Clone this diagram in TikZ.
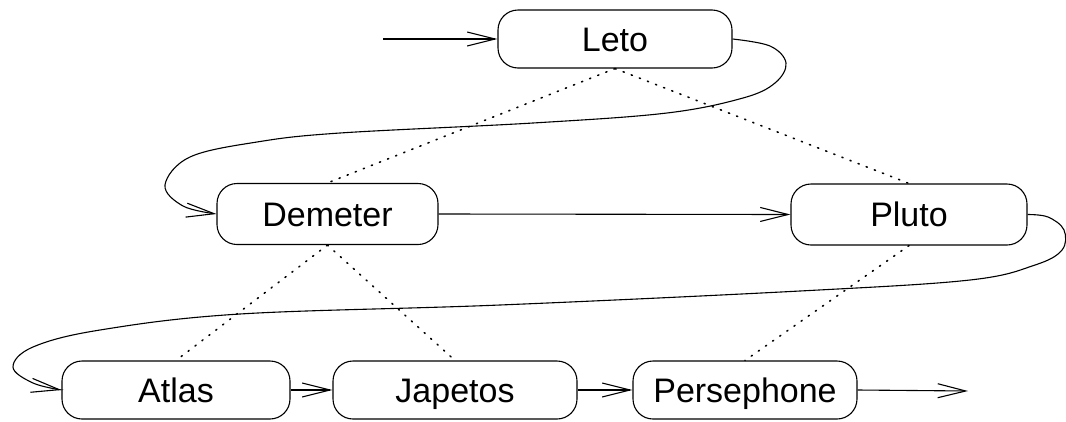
\documentclass[tikz,border=0pt]{standalone}
\usepackage{fontspec}
\setmainfont{Liberation Sans}
\usetikzlibrary{arrows.meta}
\begin{document}
\begin{tikzpicture}[x=1pt,y=-1pt,
  state/.style={draw, line width=1.1pt, rounded corners=20pt, minimum height=58pt, inner sep=0pt, text height=24.5pt, text depth=0pt, font=\fontsize{34}{40}\selectfont},
  flow/.style={line width=1.1pt, -{Straight Barb[length=28pt,width=14pt,line width=1.1pt]}},
  link/.style={line width=1.6pt, dash pattern=on 1.2pt off 7.5pt, line cap=round}
]
\useasboundingbox (0,0) rectangle (1066,421);
\node[state, minimum width=234pt] (leto) at (615,39) {Leto};
\node[state, minimum width=221pt, minimum height=61pt] (demeter) at (327.5,214) {Demeter};
\node[state, minimum width=236pt, minimum height=61pt] (pluto) at (909,214.5) {Pluto};
\node[state, minimum width=228pt] (atlas) at (176,390) {Atlas};
\node[state, minimum width=244pt] (japetos) at (455,390) {Japetos};
\node[state, minimum width=224pt] (persephone) at (745,390) {Persephone};
\coordinate (entry) at (383,39);
\coordinate (exit) at (968,391);

\draw[link] (leto.south) -- (demeter.north);
\draw[link] (leto.south) -- (pluto.north);
\draw[link] (demeter.south) -- (atlas.north);
\draw[link] (demeter.south) -- (japetos.north);
\draw[link] (pluto.south) -- (persephone.north);

\draw[flow] (entry) -- (leto.west);
\draw[flow] (demeter.east) -- (pluto.west);
\draw[flow] (atlas.east) -- (japetos.west);
\draw[flow] (japetos.east) -- (persephone.west);
\draw[flow] (persephone.east) -- (exit);

\draw[flow] plot[smooth, tension=0.6] coordinates {(leto.east) (770,46) (786,63) (775,83) (743,98) (667,113) (533,123) (340,133) (257,142) (190,157) (165,185) (183,206) (demeter.west)};
\draw[flow] plot[smooth, tension=0.6] coordinates {(pluto.east) (1048,217) (1064,230) (1062,250) (1035,265) (970,280) (800,291) (500,305) (240,314) (100,330) (33,347) (13,367) (33,383) (atlas.west)};
\end{tikzpicture}
\end{document}
